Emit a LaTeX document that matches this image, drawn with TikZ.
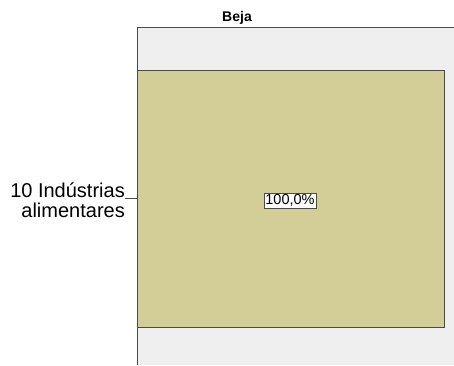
\documentclass[tikz,border=0pt]{standalone}
\usepackage{fontspec}
\setmainfont{Liberation Sans}
\usepackage{xcolor}
\usepackage{tikz}
\usetikzlibrary{arrows.meta,shapes,calc}
\definecolor{panelgray}{HTML}{EFEFEF}
\definecolor{barfill}{HTML}{D3CE98}
\definecolor{edgegray}{HTML}{4A4A4A}

\begin{document}
\begin{tikzpicture}[x=1pt,y=-1pt]
            \tikzset{panel/.style = {fill=panelgray, draw=none}}
            \tikzset{bar/.style = {fill=barfill, draw=edgegray, line width=1pt}}
            \tikzset{edge/.style = {-, draw=edgegray, line width=1pt}}
            \tikzset{pct/.style = {fill=white, draw=edgegray, line width=0.6pt, inner sep=1.5pt, font=\fontsize{14.5}{15}\selectfont}}
            \useasboundingbox (0,0) rectangle (454,365);
            
            % panel
            \fill[panel] (137,27) rectangle (454,365);
            \coordinate (tl) at (137,27);
            \coordinate (tr) at (454,27);
            \coordinate (bl) at (137,365);
            \draw[edge] (tr) -- (tl) -- (bl);
            \node[font=\bfseries\fontsize{14}{15}\selectfont] (title) at (237,18) {Beja};
            
            % bar
            \node[bar, minimum width=307pt, minimum height=257pt, inner sep=0pt] (cell) at (290.5,198.5) {};
            \node[pct] (value) at (290,200.5) {100,0\%};
            
            % axis label
            \coordinate (tick) at (125,198);
            \draw[edge] (tick) -- (tick -| cell.west);
            \node[anchor=east, align=right, inner sep=0pt, font=\fontsize{20}{20}\selectfont] (cat) at (125,200) {10 Indústrias\\alimentares};
            
          \end{tikzpicture}
\end{document}
